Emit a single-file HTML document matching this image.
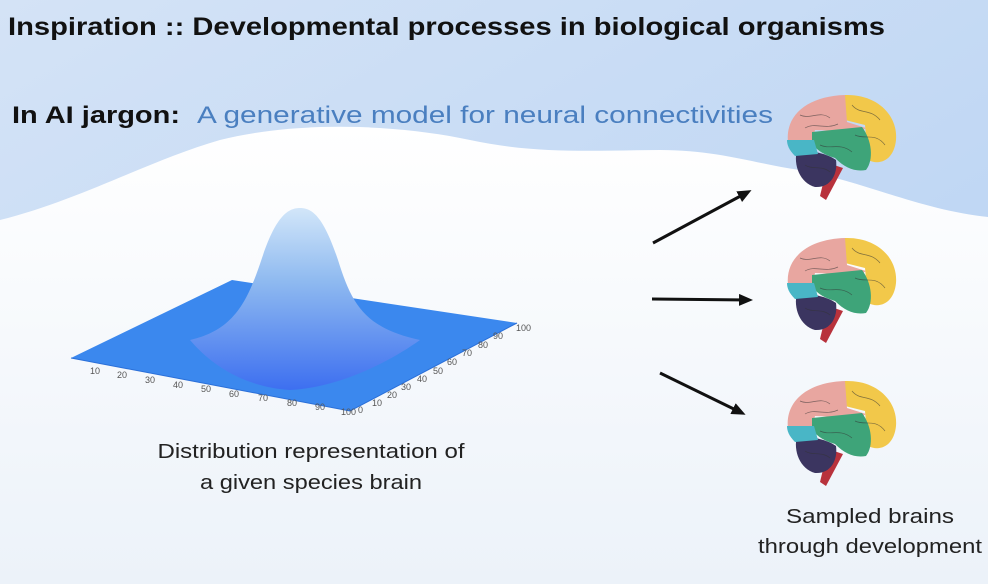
<!DOCTYPE html>
<html><head><meta charset="utf-8"><style>
html,body{margin:0;padding:0;width:988px;height:584px;overflow:hidden;background:#eef3fa}
svg{display:block}
</style></head><body>
<svg width="988" height="584" viewBox="0 0 988 584" xmlns="http://www.w3.org/2000/svg" font-family="'Liberation Sans', sans-serif">
<defs>
<linearGradient id="sky" x1="0" y1="0" x2="1" y2="1">
<stop offset="0" stop-color="#d4e3f6"/><stop offset="1" stop-color="#b6d1f3"/></linearGradient>
<linearGradient id="snow" x1="0" y1="0" x2="0" y2="1">
<stop offset="0" stop-color="#ffffff"/><stop offset="1" stop-color="#ecf2f9"/></linearGradient>
<linearGradient id="peak" x1="0" y1="0" x2="0" y2="1">
<stop offset="0" stop-color="#d2e6f9"/><stop offset="0.4" stop-color="#8fbaf0"/><stop offset="1" stop-color="#3d6ff0"/></linearGradient>
<marker id="ah" markerWidth="14" markerHeight="12" refX="10" refY="6" orient="auto" markerUnits="userSpaceOnUse">
<path d="M0,0 L14,6 L0,12 Z" fill="#111"/></marker>
</defs>
<rect width="988" height="584" fill="url(#sky)"/>
<path d="M0,220 C80,200 150,160 220,140 C300,120 400,125 470,140 C540,155 600,150 660,150 C720,150 760,165 800,170 C860,180 920,210 988,217 L988,584 L0,584 Z" fill="url(#snow)"/>

<text x="8" y="35" font-size="25" font-weight="bold" fill="#111" textLength="877" lengthAdjust="spacingAndGlyphs">Inspiration :: Developmental processes in biological organisms</text>
<text x="12" y="123" font-size="24" font-weight="bold" fill="#111" textLength="168" lengthAdjust="spacingAndGlyphs">In AI jargon:</text>
<text x="197" y="123" font-size="24" fill="#4a7fc0" textLength="576" lengthAdjust="spacingAndGlyphs">A generative model for neural connectivities</text>

<polygon points="71,358 232,280 517,323 350,411" fill="#3b88ee"/>
<path d="M71,358 L350,411 L517,323" fill="none" stroke="#2a6fd8" stroke-width="1"/>
<path d="M190,340 C235,330 248,300 262,258 C276,216 288,208 300,208 C313,208 324,218 338,260 C352,305 365,328 420,340 C385,365 335,388 290,390 C245,387 212,366 190,340 Z" fill="url(#peak)"/>
<g font-size="9" fill="#555">
<text x="90" y="374">10</text><text x="117" y="378">20</text><text x="145" y="383">30</text><text x="173" y="388">40</text><text x="201" y="392">50</text><text x="229" y="397">60</text><text x="258" y="401">70</text><text x="287" y="406">80</text><text x="315" y="410">90</text><text x="341" y="415">100</text>
<text x="358" y="413">0</text><text x="372" y="406">10</text><text x="387" y="398">20</text><text x="401" y="390">30</text><text x="417" y="382">40</text><text x="433" y="374">50</text><text x="447" y="365">60</text><text x="462" y="356">70</text><text x="478" y="348">80</text><text x="493" y="339">90</text><text x="516" y="331">100</text>
</g>

<text x="311" y="458" font-size="20" fill="#222" text-anchor="middle" textLength="307" lengthAdjust="spacingAndGlyphs">Distribution representation of</text>
<text x="311" y="489" font-size="20" fill="#222" text-anchor="middle" textLength="222" lengthAdjust="spacingAndGlyphs">a given species brain</text>
<text x="870" y="523" font-size="20" fill="#222" text-anchor="middle" textLength="168" lengthAdjust="spacingAndGlyphs">Sampled brains</text>
<text x="870" y="553" font-size="20" fill="#222" text-anchor="middle" textLength="224" lengthAdjust="spacingAndGlyphs">through development</text>

<g stroke="#111" stroke-width="3" marker-end="url(#ah)">
<line x1="653" y1="243" x2="748" y2="192"/>
<line x1="652" y1="299" x2="749" y2="300"/>
<line x1="660" y1="373" x2="742" y2="413"/>
</g>

<g id="brain">
<path d="M828,163 L843,168 L826,200 L820,196 Z" fill="#b8323c"/>
<path d="M797,150 C793,165 800,183 815,187 C830,188 838,175 836,160 C825,152 805,150 797,150 Z" fill="#3b3560"/>
<path d="M845,95 C877,94 898,115 896,140 C894,160 880,166 868,160 L865,125 L845,120 Z" fill="#f2c84a"/>
<path d="M788,142 C785,115 808,96 845,95 L847,122 L866,128 L860,132 L815,130 L812,142 Z" fill="#e8a6a0"/>
<path d="M812,132 L862,127 C872,140 874,160 866,170 C855,172 845,168 835,158 C825,155 815,150 812,142 Z" fill="#3ea479"/>
<path d="M787,140 L814,140 L818,154 L795,156 C789,150 787,145 787,140 Z" fill="#49b6c6"/>
<g fill="none" stroke="#333" stroke-width="0.7" opacity="0.6">
<path d="M800,115 C810,120 820,110 830,118 M805,128 C815,122 825,130 838,124 M852,105 C860,115 870,108 880,120 M855,135 C865,140 875,132 885,145 M820,145 C830,150 840,142 852,152 M805,165 C812,170 822,165 830,172"/>
</g>
</g>
<use href="#brain" transform="translate(0,143)"/>
<use href="#brain" transform="translate(0,286)"/>
</svg>
</body></html>
